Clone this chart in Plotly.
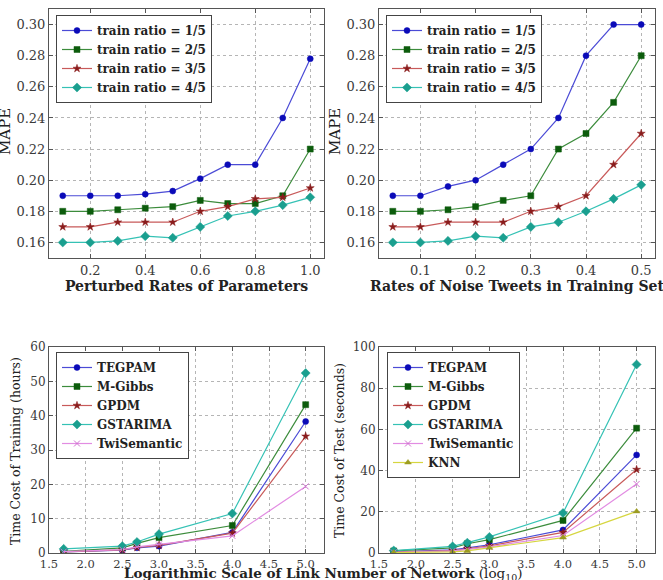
import plotly.graph_objects as go

# ---------------- data ----------------
x_perturb = [0.1, 0.2, 0.3, 0.4, 0.5, 0.6, 0.7, 0.8, 0.9, 1.0]
perturb_r1 = [0.190, 0.190, 0.190, 0.191, 0.193, 0.201, 0.210, 0.210, 0.240, 0.278]
perturb_r2 = [0.180, 0.180, 0.181, 0.182, 0.183, 0.187, 0.185, 0.185, 0.190, 0.220]
perturb_r3 = [0.170, 0.170, 0.173, 0.173, 0.173, 0.180, 0.183, 0.188, 0.189, 0.195]
perturb_r4 = [0.160, 0.160, 0.161, 0.164, 0.163, 0.170, 0.177, 0.180, 0.184, 0.189]

x_noise = [0.05, 0.10, 0.15, 0.20, 0.25, 0.30, 0.35, 0.40, 0.45, 0.50]
noise_r1 = [0.190, 0.190, 0.196, 0.200, 0.210, 0.220, 0.240, 0.280, 0.300, 0.300]
noise_r2 = [0.180, 0.180, 0.181, 0.183, 0.187, 0.190, 0.220, 0.230, 0.250, 0.280]
noise_r3 = [0.170, 0.170, 0.173, 0.173, 0.173, 0.180, 0.183, 0.190, 0.210, 0.230]
noise_r4 = [0.160, 0.160, 0.161, 0.164, 0.163, 0.170, 0.173, 0.180, 0.188, 0.197]

ratio_names = ["train ratio = 1/5", "train ratio = 2/5", "train ratio = 3/5", "train ratio = 4/5"]

x_links = [1.7, 2.5, 2.7, 3.0, 4.0, 5.0]
train_tegpam = [0.3, 0.8, 1.5, 2.0, 6.0, 38.3]
train_mgibbs = [0.5, 1.5, 2.8, 4.5, 8.0, 43.2]
train_gpdm = [0.3, 0.9, 1.6, 2.2, 5.8, 34.0]
train_gstarima = [1.2, 2.0, 3.2, 5.5, 11.5, 52.4]
train_twisem = [0.4, 1.0, 1.8, 2.5, 5.0, 19.4]

test_tegpam = [0.5, 1.5, 2.5, 4.0, 11.2, 47.6]
test_mgibbs = [1.0, 2.5, 4.5, 6.5, 15.8, 60.6]
test_gpdm = [0.4, 1.2, 2.0, 3.5, 10.0, 40.5]
test_gstarima = [1.2, 3.2, 5.0, 7.8, 19.4, 91.5]
test_twisem = [0.3, 1.0, 1.8, 3.0, 8.5, 33.5]
test_knn = [0.2, 0.5, 1.0, 2.5, 7.5, 20.2]

method_names = ["TEGPAM", "M-Gibbs", "GPDM", "GSTARIMA", "TwiSemantic", "KNN"]

# ---------------- styles ----------------
W, H = 663, 580
SERIF = "DejaVu Serif"
styles = {
    "blue":    dict(line="#4b4bd6", mk="#0b0bb8", sym="circle", size=6),
    "green":   dict(line="#3c8c3c", mk="#0c5c0c", sym="square", size=6),
    "red":     dict(line="#c85a5a", mk="#8a1c1c", sym="star", size=6),
    "cyan":    dict(line="#35c2b5", mk="#1a9f8f", sym="diamond", size=7),
    "magenta": dict(line="#e28ce2", mk="#d070d0", sym="x-thin", size=6),
    "yellow":  dict(line="#d6d640", mk="#9c9c20", sym="triangle-up", size=6),
}

def px_x(p):
    return p / W

def px_y(p):
    return 1 - p / H

fig = go.Figure()

def add(xs, ys, name, st, xa, ya, leg):
    s = styles[st]
    mk = dict(color=s["mk"], symbol=s["sym"], size=s["size"],
              line=dict(color=s["mk"], width=1 if s["sym"] == "x-thin" else 0.5))
    fig.add_trace(go.Scatter(x=xs, y=ys, name=name, mode="lines+markers",
                             line=dict(color=s["line"], width=1.2),
                             marker=mk, xaxis=xa, yaxis=ya, legend=leg))

cols = ["blue", "green", "red", "cyan", "magenta", "yellow"]
for ys, nm, c in zip([perturb_r1, perturb_r2, perturb_r3, perturb_r4], ratio_names, cols):
    add(x_perturb, ys, nm, c, "x", "y", "legend")
for ys, nm, c in zip([noise_r1, noise_r2, noise_r3, noise_r4], ratio_names, cols):
    add(x_noise, ys, nm, c, "x2", "y2", "legend2")
for ys, nm, c in zip([train_tegpam, train_mgibbs, train_gpdm, train_gstarima, train_twisem], method_names, cols):
    add(x_links, ys, nm, c, "x3", "y3", "legend3")
for ys, nm, c in zip([test_tegpam, test_mgibbs, test_gpdm, test_gstarima, test_twisem, test_knn], method_names, cols):
    add(x_links, ys, nm, c, "x4", "y4", "legend4")

def axis(domain, rng, dtick, fmt, title=None, tfont=None, anchor=None, fs=13):
    d = dict(domain=domain, range=rng, dtick=dtick, tick0=0, tickformat=fmt,
             showline=True, linecolor="#555", linewidth=1, mirror="ticks",
             ticks="inside", ticklen=4, tickcolor="#555",
             tickfont=dict(family=SERIF, size=fs, color="#3a3a3a"),
             showgrid=True, gridcolor="#b5b5b5", griddash="dot", gridwidth=1,
             zeroline=False, anchor=anchor, automargin=False)
    if title:
        d["title"] = dict(text=title, font=tfont, standoff=4)
    return d

xl_dom = [px_x(49), px_x(324)]
xr_dom = [px_x(379), px_x(655)]
yt_dom = [px_y(258), px_y(9)]
yb_dom = [px_y(553), px_y(347)]

bold_title = dict(family=SERIF, size=14, color="#222", weight="bold")
mape_font = dict(family=SERIF, size=15, color="#222")
cost_font = dict(family=SERIF, size=12.5, color="#222")

def legend(xp, yp, fs):
    return dict(x=px_x(xp), y=px_y(yp), xanchor="left", yanchor="top",
                bgcolor="white", bordercolor="#444", borderwidth=1,
                font=dict(family=SERIF, size=fs, color="#222", weight="bold"),
                itemwidth=30, tracegroupgap=0)

def ytitle(text, xp, yp, font):
    return dict(text=text, x=px_x(xp), y=px_y(yp), xref="paper", yref="paper",
                xanchor="center", yanchor="middle", textangle=-90,
                showarrow=False, font=font)

fig.update_layout(
    width=W, height=H, margin=dict(l=0, r=0, t=0, b=0, autoexpand=False),
    paper_bgcolor="white", plot_bgcolor="white",
    xaxis=axis(xl_dom, [0.05, 1.05], 0.2, ".1f", "Perturbed Rates of Parameters", bold_title, "y"),
    yaxis=axis(yt_dom, [0.15, 0.31], 0.02, ".2f", None, None, "x"),
    xaxis2=axis(xr_dom, [0.025, 0.525], 0.1, ".1f", "Rates of Noise Tweets in Training Set", bold_title, "y2"),
    yaxis2=axis(yt_dom, [0.15, 0.31], 0.02, ".2f", None, None, "x2"),
    xaxis3=axis(xl_dom, [1.5, 5.25], 0.5, ".1f", None, None, "y3", fs=11.5),
    yaxis3=axis(yb_dom, [0, 60], 10, "d", None, None, "x3", fs=12),
    xaxis4=axis(xr_dom, [1.5, 5.25], 0.5, ".1f", None, None, "y4", fs=11.5),
    yaxis4=axis(yb_dom, [0, 100], 20, "d", None, None, "x4", fs=12),
    legend=legend(56, 15, 12),
    legend2=legend(386, 15, 12),
    legend3=legend(56, 352, 12),
    legend4=legend(387, 352, 12),
    annotations=[
        dict(text="<b>Logarithmic Scale of Link Number of Network</b> (log<sub>10</sub>)",
             x=px_x(323), y=px_y(574), xref="paper", yref="paper",
             xanchor="center", yanchor="middle",
             showarrow=False, font=dict(family=SERIF, size=13.5, color="#222")),
        ytitle("MAPE", 5, 132, mape_font),
        ytitle("MAPE", 335, 132, mape_font),
        ytitle("Time Cost of Training (hours)", 15, 451, cost_font),
        ytitle("Time Cost of Test (seconds)", 339, 451, cost_font),
    ],
)

fig.write_html("out.html")
